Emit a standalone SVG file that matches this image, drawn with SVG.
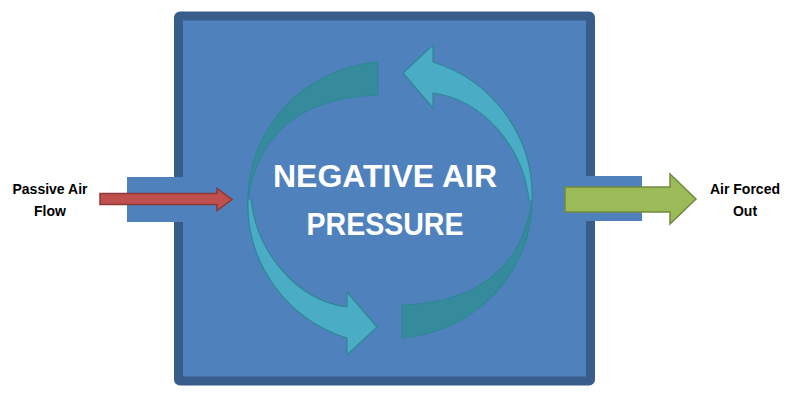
<svg xmlns="http://www.w3.org/2000/svg" width="799" height="400" viewBox="0 0 799 400">
  <style>
    .box { fill: #4f81bd; }
    .border { fill: #4f81bd; stroke: #385d8a; stroke-width: 9; }
    .light { fill: #4bacc6; stroke: #2f8797; stroke-width: 1.2; stroke-linejoin: round; }
    .dark { fill: #358b9b; stroke: #2f8797; stroke-width: 1.2; stroke-linejoin: round; }
    .label { font-family: "Liberation Sans", Arial, sans-serif; font-weight: bold; font-size: 14px; fill: #000; text-anchor: middle; }
    .main { font-family: "Liberation Sans", Arial, sans-serif; font-weight: bold; font-size: 31px; fill: #ffffff; text-anchor: middle; }
  </style>
  <defs>
    <g id="cyc">
      <path class="dark" d="M378,62 A142,138 0 0 0 248,202 C254,150 285,98 378,95 Z"/>
      <path class="light" d="M248,199 A142,140 0 0 0 347,338 L347,355 L377,327 L347,292 L347,307 C295,300 256,250 251,199 Z"/>
    </g>
  </defs>
  <rect width="799" height="400" fill="#ffffff"/>

  <g id="chamber">
    <rect class="border" x="178.5" y="16" width="412" height="365" rx="1.5"/>
    <rect id="inlet" class="box" x="127" y="177" width="58" height="45"/>
    <rect id="outlet" class="box" x="584" y="176" width="58" height="45"/>
  </g>

  <g id="cycle">
    <use href="#cyc"/>
    <use href="#cyc" transform="rotate(180 390 200)"/>
  </g>

  <g id="center-label">
    <text class="main" x="385" y="187" textLength="224" lengthAdjust="spacingAndGlyphs">NEGATIVE AIR</text>
    <text class="main" x="385" y="235" textLength="157" lengthAdjust="spacingAndGlyphs">PRESSURE</text>
  </g>

  <g id="connectors">
    <path d="M100,193.5 L217,193.5 L217,188.5 L232,199.5 L217,210.5 L217,204.5 L100,204.5 Z" fill="#c0504d" stroke="#8c3836" stroke-width="1.5" stroke-linejoin="miter"/>
    <path d="M565,187 L670,187 L670,174 L696,199 L670,224 L670,212 L565,212 Z" fill="#9bbb59" stroke="#71893f" stroke-width="1.5" stroke-linejoin="miter"/>
  </g>

  <g id="passive-label">
    <text class="label" x="50" y="194">Passive Air</text>
    <text class="label" x="50" y="216">Flow</text>
  </g>
  <g id="forced-label">
    <text class="label" x="745" y="194">Air Forced</text>
    <text class="label" x="745" y="216">Out</text>
  </g>
</svg>
